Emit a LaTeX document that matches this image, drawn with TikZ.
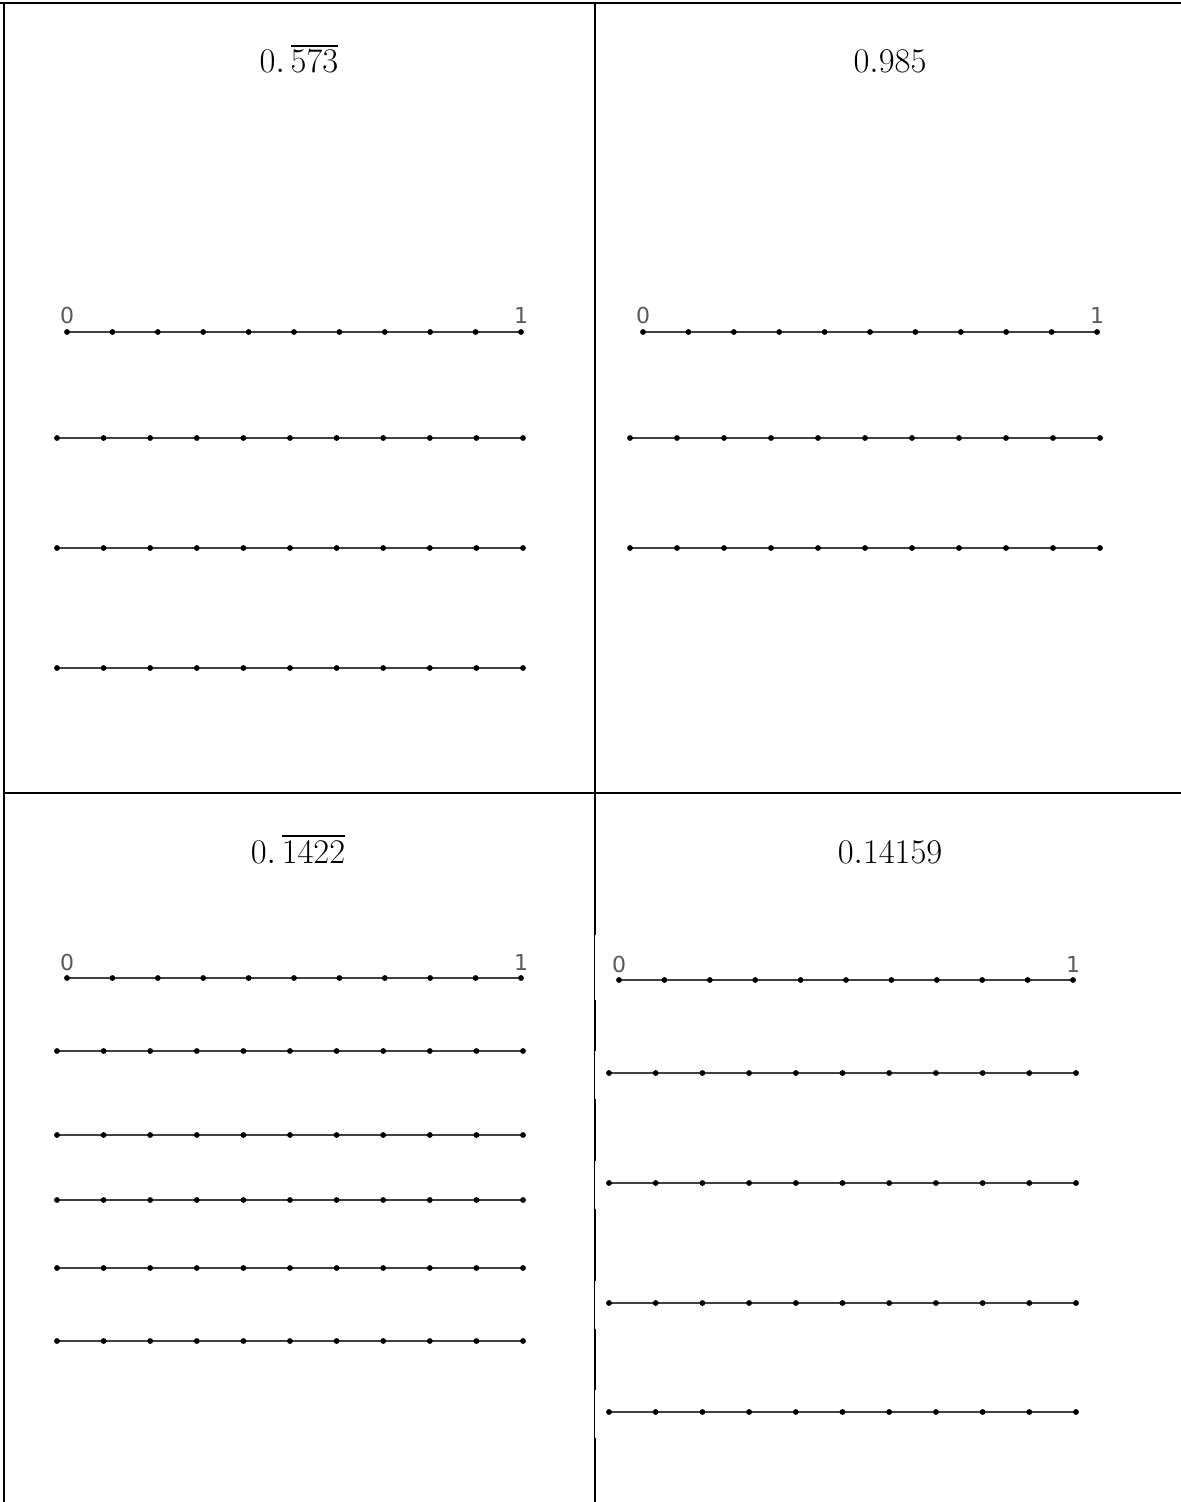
\documentclass[tikz,border=0pt]{standalone}
\usepackage{fontspec}
\newfontfamily\lblfont{DejaVu Sans}
\usepackage{amsmath}

% one number line: x start, x end, y (pixels)
\newcommand{\numline}[3]{%
  \draw[nline] (#1,#3) -- (#2,#3);
  \foreach \k in {0,...,10}
    \fill[ndot] ({#1+(#2-#1)*\k/10},#3) circle (1.45pt);
}
% number line with 0 and 1 on top
\newcommand{\numlinelab}[4]{%
  \numline{#1}{#2}{#3}
  \node[lbl] (#4zero) at (#1,#3-8) {0};
  \node[lbl] (#4one) at (#2,#3-8) {1};
}

\begin{document}
\begin{tikzpicture}[x=0.5pt, y=-0.5pt,
  rule/.style={line width=1.1pt, black},
  thinrule/.style={line width=0.5pt, black},
  nline/.style={line width=0.7pt, black!75},
  ndot/.style={black},
  lbl/.style={anchor=base, font=\lblfont\fontsize{11}{13}\selectfont, text=black!65, inner sep=0pt},
  ttl/.style={anchor=base, font=\fontsize{16}{19}\selectfont, inner sep=0pt}
]
\useasboundingbox (0,0) rectangle (1181,1502);

% table rules
\draw[rule] (0,3) -- (1181,3);
\draw[rule] (4,3) -- (4,1502);
\draw[rule] (595,3) -- (595,1502);
\draw[rule] (4,793) -- (1181,793);
% where the pasted lines sit, the middle rule is thinner
\foreach \a/\b in {935/1000,1051/1099,1161/1209,1281/1329,1390/1438} {
  \fill[white] (593,\a) rectangle (597.5,\b);
  \draw[thinrule] (594.5,\a) -- (594.5,\b);
}

% titles
\node[ttl] (ta) at (299,73) {$0.\,\overline{573}$};
\node[ttl] (tb) at (890,73) {$0.985$};
\node[ttl] (tc) at (298,863) {$0.\,\overline{1422}$};
\node[ttl] (td) at (890,863) {$0.14159$};

% top left
\numlinelab{67}{521}{332}{a}
\foreach \y in {438,548,668} {\numline{57}{523}{\y}}

% top right
\numlinelab{643}{1097}{332}{b}
\foreach \y in {438,548} {\numline{630}{1100}{\y}}

% bottom left
\numlinelab{67}{521}{978}{c}
\foreach \y in {1051,1135,1200,1268,1341} {\numline{57}{523}{\y}}

% bottom right
\numlinelab{619}{1073}{980}{d}
\foreach \y in {1073,1183,1303,1412} {\numline{609}{1076}{\y}}
\end{tikzpicture}
\end{document}
